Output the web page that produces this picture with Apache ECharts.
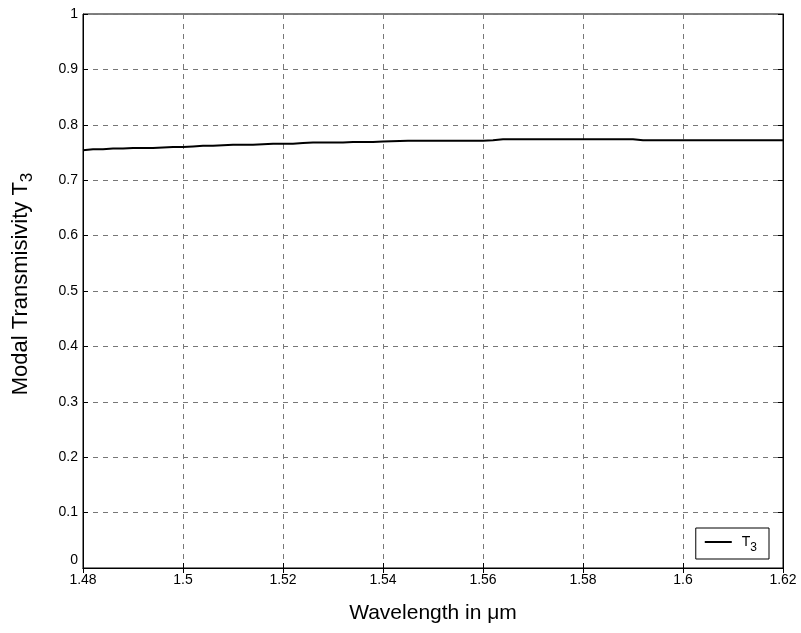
<!DOCTYPE html>
<html><head><meta charset="utf-8">
<script src="https://cdn.jsdelivr.net/npm/echarts@6/dist/echarts.min.js"></script>
<style>html,body{margin:0;padding:0;background:#fff}#c{width:801px;height:633px}</style>
</head><body><div id="c"></div>
<script>
const wavelength = [1.480,1.482,1.484,1.486,1.488,1.490,1.492,1.494,1.496,1.498,1.500,1.502,1.504,1.506,1.508,1.510,1.512,1.514,1.516,1.518,1.520,1.522,1.524,1.526,1.528,1.530,1.532,1.534,1.536,1.538,1.540,1.545,1.550,1.555,1.560,1.562,1.564,1.570,1.580,1.590,1.592,1.600,1.610,1.620];
const t3 = [0.754,0.756,0.756,0.757,0.757,0.758,0.758,0.758,0.759,0.760,0.760,0.761,0.762,0.762,0.763,0.764,0.764,0.764,0.765,0.766,0.766,0.766,0.767,0.768,0.768,0.768,0.768,0.769,0.769,0.769,0.770,0.771,0.771,0.771,0.771,0.772,0.774,0.774,0.774,0.774,0.772,0.772,0.772,0.772];
const xTicks = {min:1.48, max:1.62, step:0.02};
const yTicks = {min:0, max:1, step:0.1};

const chart = echarts.init(document.getElementById('c'));
const font = 'Liberation Sans, Arial, sans-serif';
const gridLine = {show:true, lineStyle:{color:'#777', type:[5,5], width:1}};
chart.setOption({
  animation:false,
  grid:{left:83, right:18, top:14, bottom:65, show:true, borderColor:'#000', borderWidth:1},
  legend:{
    data:['T3'], right:32, bottom:74, orient:'vertical',
    backgroundColor:'#fff', borderColor:'#000', borderWidth:1,
    padding:[7,12,5,9], itemWidth:27, itemHeight:2, itemGap:0,
    icon:'rect',
    itemStyle:{color:'#000'},
    formatter: () => '{a|T}{b|3}',
    textStyle:{fontFamily:font, color:'#000', padding:[0,0,0,5], rich:{a:{fontSize:14, fontFamily:font}, b:{fontSize:12, fontFamily:font, padding:[12,0,0,0]}}}
  },
  xAxis:[{
    type:'value', min:xTicks.min, max:xTicks.max, interval:xTicks.step,
    name:'Wavelength in μm', nameLocation:'middle', nameGap:35,
    nameTextStyle:{fontFamily:font, fontSize:21, color:'#000'},
    axisLine:{show:true, lineStyle:{color:'#000'}},
    axisTick:{show:true, inside:true, length:5, lineStyle:{color:'#000'}},
    axisLabel:{fontFamily:font, fontSize:14, color:'#000', margin:5},
    splitLine:gridLine
  },{
    type:'value', position:'top', min:xTicks.min, max:xTicks.max, interval:xTicks.step,
    axisLine:{show:true, lineStyle:{color:'#000'}},
    axisTick:{show:true, inside:true, length:5, lineStyle:{color:'#000'}},
    axisLabel:{show:false}, splitLine:{show:false}
  }],
  yAxis:[{
    type:'value', min:yTicks.min, max:yTicks.max, interval:yTicks.step,
    name:'{a|Modal Transmisivity T}{b|3}', nameLocation:'middle', nameGap:47,
    nameTextStyle:{fontFamily:font, color:'#000', padding:[0,0,0,14], rich:{a:{fontSize:22, fontFamily:font}, b:{fontSize:17, fontFamily:font, padding:[14,0,0,0]}}},
    axisLine:{show:true, lineStyle:{color:'#000'}},
    axisTick:{show:true, inside:true, length:5, lineStyle:{color:'#000'}},
    axisLabel:{fontFamily:font, fontSize:14, color:'#000', margin:5,
      formatter: v => v === 0 ? '{z|0}' : String(Math.round(v*10)/10),
      rich:{z:{fontSize:14, fontFamily:font, color:'#000', padding:[0,0,16,0]}}},
    splitLine:gridLine
  },{
    type:'value', position:'right', min:yTicks.min, max:yTicks.max, interval:yTicks.step,
    axisLine:{show:true, lineStyle:{color:'#000'}},
    axisTick:{show:true, inside:true, length:5, lineStyle:{color:'#000'}},
    axisLabel:{show:false}, splitLine:{show:false}
  }],
  series:[{
    name:'T3', type:'line', xAxisIndex:0, yAxisIndex:0,
    data: wavelength.map((w,i)=>[w,t3[i]]),
    showSymbol:false, lineStyle:{color:'#000', width:2}, itemStyle:{color:'#000'}
  }]
});
</script></body></html>
